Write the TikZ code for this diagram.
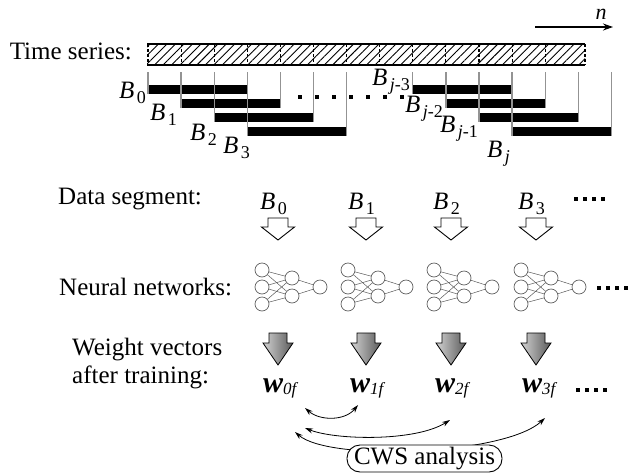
\documentclass[tikz,border=0pt]{standalone}
\usepackage{fontspec}
\setmainfont{Liberation Serif}
\usetikzlibrary{arrows.meta,patterns.meta,positioning}

% segment label B_k and trained weight vector w_kf
\newcommand{\seg}[1]{\textit{B}\hspace{0.1em}\raisebox{-0.45ex}{\fontsize{18}{18}\selectfont #1}}
\newcommand{\wvec}[1]{{\fontsize{30}{30}\selectfont\bfseries\itshape w}\raisebox{-0.2ex}{\fontsize{17}{17}\selectfont\itshape #1}}

\tikzset{
  neuron/.style={circle,draw=gray!75!black,line width=0.7pt,minimum size=14pt,inner sep=0pt},
  synapse/.style={draw=gray!70!black,line width=0.5pt},
  pics/net/.style={code={
    \foreach \i/\y in {1/-17,2/0,3/17} \node[neuron] (-in\i) at (0,\y) {};
    \foreach \i/\y in {1/-9,2/9} \node[neuron] (-hd\i) at (30,\y) {};
    \node[neuron] (-out) at (58,0) {};
    \foreach \i in {1,2,3} \foreach \j in {1,2} \draw[synapse] (-in\i) -- (-hd\j);
    \foreach \j in {1,2} \draw[synapse] (-hd\j) -- (-out);
  }},
  pics/openarrow/.style={code={
    \draw[line width=0.9pt,fill=white] (-10,0) -- (10,0) -- (10,9) -- (16.5,9)
      -- (0,22) -- (-16.5,9) -- (-10,9) -- cycle;
  }},
  pics/shadearrow/.style={code={
    \draw[line width=0.8pt,left color=gray!35,right color=gray!70!black]
      (-9,0) -- (9,0) -- (9,10) -- (15,10) -- (0,32) -- (-15,10) -- (-9,10) -- cycle;
  }},
}

\begin{document}
\begin{tikzpicture}[x=1pt,y=-1pt,
    every node/.style={font=\fontsize{25}{28}\selectfont,inner sep=0pt},
    segtick/.style={draw=gray!85,line width=1.3pt},
    dotrow/.style={line width=4pt,dash pattern=on 4pt off 5pt},
    link/.style={line width=0.8pt,{Stealth[length=8pt,width=5pt]}-{Stealth[length=8pt,width=5pt]}}]
  \useasboundingbox (0,0) rectangle (634,474);

  % time series strip
  \node[anchor=base east] (tslbl) at (132,59) {Time series:};
  \fill[pattern={Lines[angle=45,distance=6pt,line width=0.9pt]}] (147,44) rectangle (585,65);
  \foreach \k in {0,...,12}
    \draw[line width=1.1pt,dash pattern=on 3pt off 2pt] (148+\k*33.1,44) -- (148+\k*33.1,65);
  \draw[line width=1.1pt,dash pattern=on 3pt off 2pt] (585,44) -- (585,65);
  \draw[line width=2.2pt] (147,44) -- (585,44) (147,65) -- (585,65);
  \coordinate (ta) at (535,27);
  \coordinate (tb) at (613,27);
  \draw[line width=1.2pt,-{Stealth[length=10pt,width=7pt]}] (ta) -- (tb);
  \node[anchor=base,font=\fontsize{22}{22}\selectfont] (nlbl) at (601,19) {\textit{n}};

  % overlapping data segments
  \foreach \k/\lv in {0/0,1/1,2/2,3/3,8/0,9/1,10/2,11/3}
    \fill (148+\k*33.1,85+14*\lv) rectangle ++(99.3,9);
  \foreach \k/\lv in {0/0,1/1,2/2,3/3,8/0,9/1,10/2,11/3} {
    \draw[segtick] (148+\k*33.1,72) -- ++(0,22+14*\lv);
    \draw[segtick] (247.3+\k*33.1,72) -- ++(0,22+14*\lv);
  }
  \draw[line width=4pt,dash pattern=on 4pt off 13pt] (298,97) -- (406,97);

  \node[anchor=base east] (b0) at (146,98) {\seg{0}};
  \node[anchor=base east] (b1) at (177,120) {\seg{1}};
  \node[anchor=base east] (b2) at (217,140) {\seg{2}};
  \node[anchor=base east] (b3) at (250,153) {\seg{3}};
  \node[anchor=base east] (bj3) at (410,85) {\seg{\textit{j}-3}};
  \node[anchor=base east] (bj2) at (443,112) {\seg{\textit{j}-2}};
  \node[anchor=base east] (bj1) at (478,132) {\seg{\textit{j}-1}};
  \node[anchor=base east] (bj) at (510,157) {\seg{\textit{j}}};

  % row titles
  \node[anchor=base west] (dslbl) at (58,204) {Data segment:};
  \node[anchor=base west] (nnlbl) at (59,295) {Neural networks:};
  \node[anchor=base west] (wvlbl) at (72,355) {Weight vectors};
  \node[anchor=base west] (atlbl) at (72,383) {after training:};

  % segments -> networks -> weights
  \foreach \n/\x/\nx in {0/260/262,1/348/348,2/433/434,3/518/521} {
    \node[anchor=base west] (seg\n) at (\x,209) {\seg{\n}};
    \pic at (\x+18,218) {openarrow};
    \pic (net\n) at (\nx,287) {net};
    \pic at (\x+18,333) {shadearrow};
  }
  \node[anchor=base west] (w0) at (263,392) {\wvec{0f}};
  \node[anchor=base west] (w1) at (350,392) {\wvec{1f}};
  \node[anchor=base west] (w2) at (435,392) {\wvec{2f}};
  \node[anchor=base west] (w3) at (522,392) {\wvec{3f}};
  \draw[dotrow] (574,199) -- (609,199);
  \draw[dotrow] (597,288) -- (632,288);
  \draw[dotrow] (576,390) -- (611,390);

  % CWS comparisons
  \coordinate (p0) at (305,408);
  \coordinate (p1) at (358,405);
  \coordinate (q0) at (305,428);
  \coordinate (q2) at (450,420);
  \coordinate (r0) at (295,432);
  \coordinate (r3) at (545,418);
  \draw[link] (p0) .. controls (320,421) and (345,421) .. (p1);
  \draw[link] (q0) .. controls (335,440) and (415,442) .. (q2);
  \draw[link] (r0) .. controls (330,462) and (505,455) .. (r3);
  \node[draw,fill=white,line width=0.9pt,rounded corners=13pt,
        minimum width=155pt,minimum height=27pt] (cws) at (424.5,458.5) {CWS analysis};
\end{tikzpicture}
\end{document}
